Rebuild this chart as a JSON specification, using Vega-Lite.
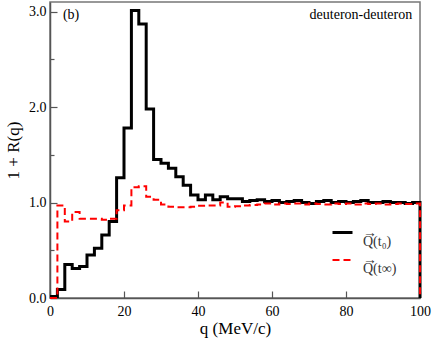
{
  "$schema": "https://vega.github.io/schema/vega-lite/v6.json",
  "width": 370,
  "height": 296,
  "autosize": "none",
  "padding": {"left": 50, "top": 2, "right": 16, "bottom": 43},
  "background": "white",
  "config": {
    "view": {"stroke": "#777777", "strokeWidth": 1.5},
    "font": "Liberation Serif",
    "style": {"guide-label": {"lineHeight": 9}},
    "axis": {"grid": false, "domainColor": "#555555", "domainWidth": 1.5, "tickColor": "#555555", "tickWidth": 1.2, "labelFont": "Liberation Serif", "labelFontSize": 14, "labelColor": "#000000", "titleFont": "Liberation Serif", "titleFontWeight": "normal", "titleColor": "#000000", "titleFontSize": 17}
  },
  "datasets": {
    "hist": [
      {"q": 0, "v": 0.015, "s": "t0"}, {"q": 2, "v": 0.09, "s": "t0"}, {"q": 4, "v": 0.35, "s": "t0"}, {"q": 6, "v": 0.31, "s": "t0"}, {"q": 8, "v": 0.33, "s": "t0"},
      {"q": 10, "v": 0.45, "s": "t0"}, {"q": 12, "v": 0.52, "s": "t0"}, {"q": 14, "v": 0.66, "s": "t0"}, {"q": 16, "v": 0.80, "s": "t0"}, {"q": 18, "v": 1.26, "s": "t0"},
      {"q": 20, "v": 1.78, "s": "t0"}, {"q": 22, "v": 3.01, "s": "t0"}, {"q": 24, "v": 2.87, "s": "t0"}, {"q": 26, "v": 1.98, "s": "t0"}, {"q": 28, "v": 1.45, "s": "t0"},
      {"q": 30, "v": 1.41, "s": "t0"}, {"q": 32, "v": 1.36, "s": "t0"}, {"q": 34, "v": 1.27, "s": "t0"}, {"q": 36, "v": 1.18, "s": "t0"}, {"q": 38, "v": 1.08, "s": "t0"},
      {"q": 40, "v": 1.03, "s": "t0"}, {"q": 42, "v": 1.08, "s": "t0"}, {"q": 44, "v": 1.03, "s": "t0"}, {"q": 46, "v": 1.06, "s": "t0"}, {"q": 48, "v": 1.04, "s": "t0"},
      {"q": 50, "v": 1.04, "s": "t0"}, {"q": 52, "v": 1.01, "s": "t0"}, {"q": 54, "v": 1.02, "s": "t0"}, {"q": 56, "v": 1.03, "s": "t0"}, {"q": 58, "v": 1.01, "s": "t0"},
      {"q": 60, "v": 1.02, "s": "t0"}, {"q": 62, "v": 1.00, "s": "t0"}, {"q": 64, "v": 1.01, "s": "t0"}, {"q": 66, "v": 1.02, "s": "t0"}, {"q": 68, "v": 1.00, "s": "t0"},
      {"q": 70, "v": 0.99, "s": "t0"}, {"q": 72, "v": 1.01, "s": "t0"}, {"q": 74, "v": 1.02, "s": "t0"}, {"q": 76, "v": 1.00, "s": "t0"}, {"q": 78, "v": 1.01, "s": "t0"},
      {"q": 80, "v": 1.00, "s": "t0"}, {"q": 82, "v": 1.01, "s": "t0"}, {"q": 84, "v": 1.02, "s": "t0"}, {"q": 86, "v": 1.00, "s": "t0"}, {"q": 88, "v": 1.00, "s": "t0"},
      {"q": 90, "v": 1.01, "s": "t0"}, {"q": 92, "v": 1.00, "s": "t0"}, {"q": 94, "v": 1.00, "s": "t0"}, {"q": 96, "v": 0.99, "s": "t0"}, {"q": 98, "v": 1.00, "s": "t0"},
      {"q": 100, "v": 0, "s": "t0"},
      {"q": 0, "v": 0, "s": "tinf"}, {"q": 2, "v": 0.97, "s": "tinf"}, {"q": 4, "v": 0.80, "s": "tinf"}, {"q": 6, "v": 0.90, "s": "tinf"}, {"q": 8, "v": 0.83, "s": "tinf"},
      {"q": 10, "v": 0.83, "s": "tinf"}, {"q": 12, "v": 0.83, "s": "tinf"}, {"q": 14, "v": 0.82, "s": "tinf"}, {"q": 16, "v": 0.83, "s": "tinf"}, {"q": 18, "v": 0.92, "s": "tinf"},
      {"q": 20, "v": 0.97, "s": "tinf"}, {"q": 22, "v": 1.16, "s": "tinf"}, {"q": 24, "v": 1.17, "s": "tinf"}, {"q": 26, "v": 1.06, "s": "tinf"}, {"q": 28, "v": 1.03, "s": "tinf"},
      {"q": 30, "v": 0.98, "s": "tinf"}, {"q": 32, "v": 0.955, "s": "tinf"}, {"q": 34, "v": 0.95, "s": "tinf"}, {"q": 36, "v": 0.95, "s": "tinf"}, {"q": 38, "v": 0.955, "s": "tinf"},
      {"q": 40, "v": 0.965, "s": "tinf"}, {"q": 42, "v": 0.97, "s": "tinf"}, {"q": 44, "v": 0.97, "s": "tinf"}, {"q": 46, "v": 1.0, "s": "tinf"}, {"q": 48, "v": 0.955, "s": "tinf"},
      {"q": 50, "v": 0.96, "s": "tinf"}, {"q": 52, "v": 0.97, "s": "tinf"}, {"q": 54, "v": 0.975, "s": "tinf"}, {"q": 56, "v": 0.98, "s": "tinf"}, {"q": 58, "v": 0.99, "s": "tinf"},
      {"q": 60, "v": 0.98, "s": "tinf"}, {"q": 62, "v": 0.99, "s": "tinf"}, {"q": 64, "v": 0.985, "s": "tinf"}, {"q": 66, "v": 0.99, "s": "tinf"}, {"q": 68, "v": 0.98, "s": "tinf"},
      {"q": 70, "v": 0.99, "s": "tinf"}, {"q": 72, "v": 0.985, "s": "tinf"}, {"q": 74, "v": 0.98, "s": "tinf"}, {"q": 76, "v": 0.99, "s": "tinf"}, {"q": 78, "v": 0.985, "s": "tinf"},
      {"q": 80, "v": 0.99, "s": "tinf"}, {"q": 82, "v": 0.98, "s": "tinf"}, {"q": 84, "v": 0.99, "s": "tinf"}, {"q": 86, "v": 0.985, "s": "tinf"}, {"q": 88, "v": 0.99, "s": "tinf"},
      {"q": 90, "v": 0.98, "s": "tinf"}, {"q": 92, "v": 0.985, "s": "tinf"}, {"q": 94, "v": 0.99, "s": "tinf"}, {"q": 96, "v": 0.985, "s": "tinf"}, {"q": 98, "v": 0.99, "s": "tinf"},
      {"q": 100, "v": 0, "s": "tinf"}
    ]
  },
  "layer": [
    {
      "data": {"name": "hist"},
      "mark": {"type": "line", "interpolate": "step-after"},
      "encoding": {
        "x": {
          "field": "q", "type": "quantitative",
          "scale": {"domain": [0, 100], "nice": false, "zero": false},
          "axis": {
            "title": "q (MeV/c)",
            "values": [0, 5, 10, 15, 20, 25, 30, 35, 40, 45, 50, 55, 60, 65, 70, 75, 80, 85, 90, 95, 100],
            "labelExpr": "datum.value % 20 === 0 ? datum.label : ''",
            "tickSize": {"condition": {"test": "datum.value % 20 === 0", "value": -7}, "value": -4},
            "labelPadding": 13,
            "labelFlush": false,
            "titlePadding": 2
          }
        },
        "y": {
          "field": "v", "type": "quantitative",
          "scale": {"domain": [0, 3.1], "nice": false},
          "axis": {
            "title": "1 + R(q)",
            "values": [0, 0.25, 0.5, 0.75, 1, 1.25, 1.5, 1.75, 2, 2.25, 2.5, 2.75, 3],
            "labelExpr": "datum.value % 1 === 0 ? format(datum.value, '.1f') : ''",
            "tickSize": {"condition": {"test": "datum.value % 1 === 0", "value": -7}, "value": -4},
            "labelPadding": 11,
            "labelFlush": false,
            "titlePadding": 6
          }
        },
        "color": {
          "field": "s", "type": "nominal",
          "scale": {"domain": ["t0", "tinf"], "range": ["#000000", "#ff0000"]},
          "legend": {
            "orient": "none", "legendX": 281, "legendY": 219, "title": null, "padding": 0,
            "symbolType": "stroke", "symbolSize": 400,
            "labelFont": "Liberation Serif", "labelFontSize": 14, "labelColor": "#333333",
            "rowPadding": 0, "labelOffset": 9,
            "labelExpr": "datum.value == 't0' ? ['→', 'Q(t₀)'] : ['→', 'Q(t∞)']"
          }
        },
        "strokeDash": {
          "field": "s", "type": "nominal",
          "scale": {"domain": ["t0", "tinf"], "range": [[1, 0], [7, 4]]}
        },
        "strokeWidth": {
          "field": "s", "type": "nominal",
          "scale": {"domain": ["t0", "tinf"], "range": [3, 2]}
        }
      }
    },
    {
      "data": {"values": [{}]},
      "mark": {"type": "text", "align": "right", "baseline": "middle", "font": "Liberation Serif", "fontSize": 14, "color": "#000000"},
      "encoding": {"x": {"datum": 97.9}, "y": {"datum": 2.96}, "text": {"value": "deuteron-deuteron"}}
    },
    {
      "data": {"values": [{}]},
      "mark": {"type": "text", "align": "left", "baseline": "middle", "font": "Liberation Serif", "fontSize": 14, "color": "#000000"},
      "encoding": {"x": {"datum": 3.5}, "y": {"datum": 2.96}, "text": {"value": "(b)"}}
    }
  ]
}
